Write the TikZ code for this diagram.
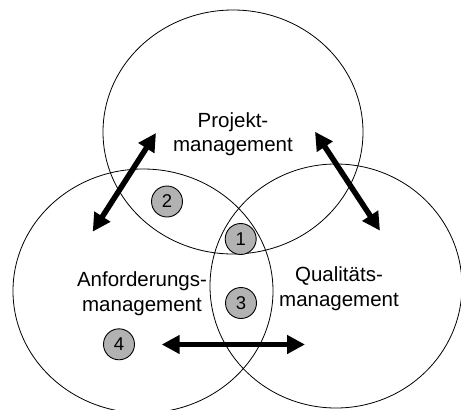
\documentclass[tikz,border=0pt]{standalone}
\usepackage{fontspec}
\setmainfont{Liberation Sans}
\usetikzlibrary{shapes.geometric,arrows.meta}
\tikzset{
  set/.style={draw, ellipse, inner sep=0pt, line width=0.8pt},
  num/.style={draw, circle, fill=gray!60, line width=0.9pt, minimum size=31pt, inner sep=0pt, font=\fontsize{18.5}{20}\selectfont},
  lbl/.style={align=center, inner sep=0pt, font=\fontsize{20.5}{24.5}\selectfont},
  rel/.style={line width=5.5pt, {Triangle[length=18pt,width=18pt]}-{Triangle[length=18pt,width=18pt]}}
}
\begin{document}
\begin{tikzpicture}[x=1pt,y=-1pt]
\useasboundingbox (0,0) rectangle (461,410);
\node[set, minimum width=260pt, minimum height=244pt] (pm) at (233,132) {};
\node[set, minimum width=260pt, minimum height=244pt] (am) at (143,291) {};
\node[set, minimum width=252pt, minimum height=244pt] (qm) at (336,286) {};
\node[lbl] (tpm) at (233,134.3) {Projekt-\\management};
\node[lbl] (tam) at (142,293.7) {Anforderungs-\\management};
\node[lbl] (tqm) at (339,288.7) {Qualitäts-\\management};
\node[num] (n2) at (167,201.5) {2};
\node[num] (n1) at (240.7,239) {1};
\node[num] (n3) at (241,303) {3};
\node[num] (n4) at (119,344.3) {4};
\coordinate (a1) at (156,133);
\coordinate (b1) at (92.7,231.7);
\coordinate (a2) at (315,131.7);
\coordinate (b2) at (380,230.7);
\coordinate (a3) at (161.7,344.5);
\coordinate (b3) at (305,344.5);
\draw[rel] (a1) -- (b1);
\draw[rel] (a2) -- (b2);
\draw[rel] (a3) -- (b3);
\end{tikzpicture}
\end{document}
